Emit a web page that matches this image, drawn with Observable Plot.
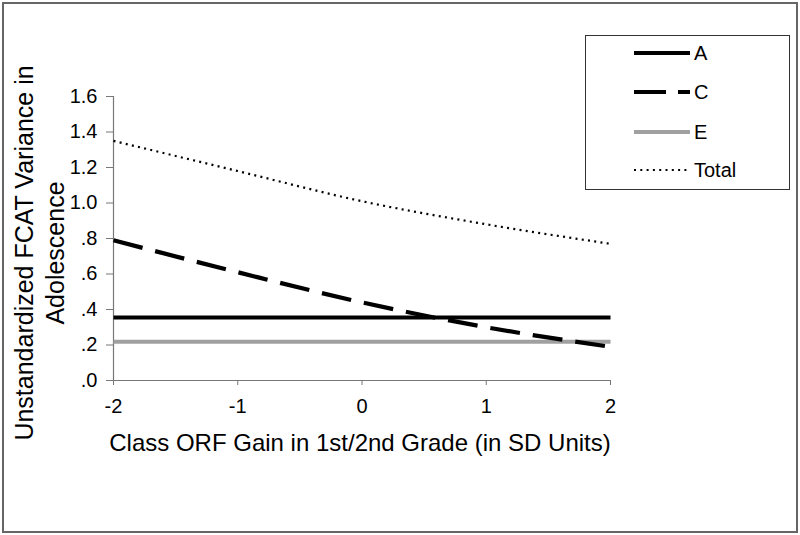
<!DOCTYPE html>
<html>
<head>
<meta charset="utf-8">
<script src="https://cdn.jsdelivr.net/npm/d3@7"></script>
<script src="https://cdn.jsdelivr.net/npm/@observablehq/plot@0.6"></script>
<style>
  html, body { margin: 0; padding: 0; background: #fff; }
  #chart { width: 800px; height: 535px; position: relative; }
</style>
</head>
<body>
<div id="chart"></div>
<script>
// ---- data ----
const xValues = [-2, -1, 0, 1, 2];
const seriesA = [0.355, 0.355, 0.355, 0.355, 0.355];
const seriesC = [0.79, 0.61, 0.44, 0.30, 0.19];
const seriesE = [0.218, 0.218, 0.218, 0.218, 0.218];
const seriesTotal = [1.35, 1.18, 1.01, 0.88, 0.77];
const seriesNames = ["A", "C", "E", "Total"];
const yTicks = [0, 0.2, 0.4, 0.6, 0.8, 1.0, 1.2, 1.4, 1.6];
const yTickLabels = [".0", ".2", ".4", ".6", ".8", "1.0", "1.2", "1.4", "1.6"];
const xTicks = [-2, -1, 0, 1, 2];
const xTickLabels = ["-2", "-1", "0", "1", "2"];
const xTitle = "Class ORF Gain in 1st/2nd Grade (in SD Units)";
const yTitleLines = ["Unstandardized FCAT Variance in", "Adolescence"];

// ---- styles ----
const styles = {
  A: {stroke: "#000000", strokeWidth: 4, dash: null},
  C: {stroke: "#000000", strokeWidth: 4.2, dash: "30,13"},
  E: {stroke: "#a0a0a0", strokeWidth: 4, dash: null},
  Total: {stroke: "#000000", strokeWidth: 2.2, dash: "2,4.3"}
};

const valuesBySeries = {A: seriesA, C: seriesC, E: seriesE, Total: seriesTotal};
const rows = name => xValues.map((x, i) => ({x, y: valuesBySeries[name][i], s: name}));

const font = "'Liberation Sans', Arial, Helvetica, sans-serif";
const axisColor = "#777";

const lineMarks = ["E", "A", "C", "Total"].map(name =>
  Plot.line(rows(name), {
    x: "x", y: "y",
    curve: "monotone-x",
    stroke: styles[name].stroke,
    strokeWidth: styles[name].strokeWidth,
    strokeDasharray: styles[name].dash,
    strokeLinecap: "butt"
  })
);

const plot = Plot.plot({
  width: 800,
  height: 535,
  marginLeft: 113,
  marginRight: 190,
  marginTop: 96,
  marginBottom: 155,
  style: {fontFamily: font, fontSize: "20px", color: "#000", background: "transparent"},
  x: {domain: [-2, 2]},
  y: {domain: [0, 1.6]},
  marks: [
    Plot.axisY({
      ticks: yTicks,
      tickSize: 7,
      tickPadding: 9,
      tickFormat: (d, i) => yTickLabels[i],
      stroke: axisColor,
      fill: "#000",
      label: null,
      fontSize: 20
    }),
    Plot.axisX({
      ticks: xTicks,
      tickSize: 5,
      tickPadding: 12.8,
      tickFormat: (d, i) => xTickLabels[i],
      stroke: axisColor,
      fill: "#000",
      label: null,
      fontSize: 20
    }),
    Plot.ruleY([0], {stroke: axisColor, strokeWidth: 1.2}),
    Plot.ruleX([-2], {stroke: axisColor, strokeWidth: 1.2}),
    ...lineMarks
  ]
});

document.getElementById("chart").appendChild(plot);

// ---- decorations: outer frame, axis titles, legend ----
const svg = d3.select(plot);
svg.insert("rect", ":first-child")
  .attr("x", 3).attr("y", 3).attr("width", 794).attr("height", 529)
  .attr("fill", "#fff").attr("stroke", "#666").attr("stroke-width", 2);

// x title
svg.append("text")
  .attr("x", 360).attr("y", 451)
  .attr("text-anchor", "middle")
  .attr("font-family", font).attr("font-size", 24).attr("fill", "#000")
  .text(xTitle);

// y title (two lines, rotated)
const yt = svg.append("text")
  .attr("transform", "translate(33,253) rotate(-90)")
  .attr("text-anchor", "middle")
  .attr("font-family", font).attr("font-size", 25).attr("fill", "#000");
yTitleLines.forEach((line, i) => {
  yt.append("tspan").attr("x", 0).attr("y", i * 31).text(line);
});

// legend
const lg = svg.append("g");
lg.append("rect")
  .attr("x", 585.5).attr("y", 35.5).attr("width", 204).attr("height", 154)
  .attr("fill", "#fff").attr("stroke", "#333").attr("stroke-width", 1);
const legendY = [53, 92, 132, 170];
seriesNames.forEach((name, i) => {
  const st = styles[name];
  lg.append("line")
    .attr("x1", 634).attr("x2", 690)
    .attr("y1", legendY[i]).attr("y2", legendY[i])
    .attr("stroke", st.stroke)
    .attr("stroke-width", st.strokeWidth)
    .attr("stroke-dasharray", name === "C" ? "32,12" : st.dash)
    .attr("stroke-linecap", "butt");
  lg.append("text")
    .attr("x", 694).attr("y", legendY[i] + 7)
    .attr("text-anchor", "start")
    .attr("font-family", font).attr("font-size", 20).attr("fill", "#000")
    .text(name);
});
</script>
</body>
</html>
